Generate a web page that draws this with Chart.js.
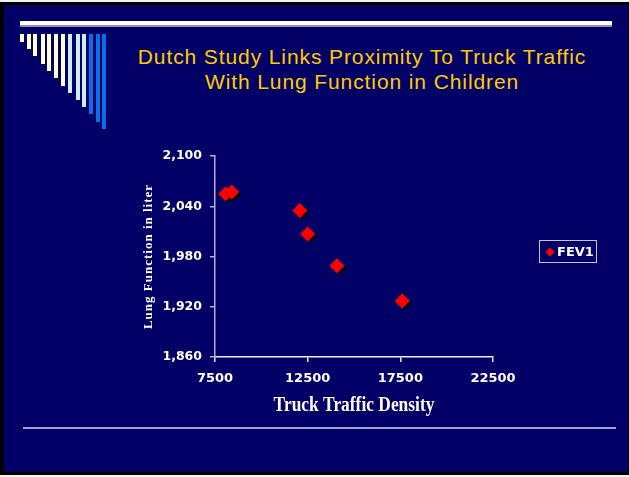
<!DOCTYPE html>
<html>
<head>
<meta charset="utf-8">
<script src="https://cdn.jsdelivr.net/npm/chart.js@4/dist/chart.umd.min.js"></script>
<style>
  html, body { margin: 0; padding: 0; background: #f2f2f2; width: 629px; height: 477px; overflow: hidden; }
  #frame { position: absolute; left: 0; top: 2px; width: 629px; height: 473px; background: #000; }
  #slide { position: absolute; left: 4px; top: 5px; width: 624px; height: 467px; background: #020066; }
  #topline { position: absolute; left: 20px; top: 21px; width: 592px; height: 4px; background: #ffffff; border-bottom: 2px solid #8f8fc8; }
  #botline { position: absolute; left: 23px; top: 427px; width: 593px; height: 2px; background: #a3a3cf; }
  .bar { position: absolute; top: 34px; width: 4px; }
  #title { position: absolute; left: 0; width: 724px; top: 44px; text-align: center; color: #FFCC00;
           font-family: "Liberation Sans", Arial, sans-serif; font-size: 21px; line-height: 25px; letter-spacing: 0.9px; }
  #c { position: absolute; left: 0; top: 0; }
</style>
</head>
<body>
<div id="frame"></div>
<div id="slide"></div>
<div id="topline"></div>
<div id="botline"></div>
<div id="bars"></div>
<div id="title">Dutch Study Links Proximity To Truck Traffic<br>With Lung Function in Children</div>
<canvas id="c" width="629" height="477"></canvas>
<script>
// ---- data ----
const seriesName = "FEV1";
const truckDensity = [8080, 8400, 12080, 12500, 14080, 17600];
const lungFunction = [2055, 2057, 2035, 2007, 1969, 1927];
const xTicks = [7500, 12500, 17500, 22500];
const yTicks = [1860, 1920, 1980, 2040, 2100];
const xTitle = "Truck Traffic Density";
const yTitle = "Lung Function in liter";

// decorative bars (slide design)
const barLeft = [20, 27, 33, 41, 47, 54, 61, 68, 76, 82, 89, 96, 102];
const barBottom = [42, 49, 56, 64, 71, 78, 86, 93, 100, 107, 114, 122, 129];
const barColor = ["#FFFFCC","#FFFFCC","#FFFFCC","#FFFFCC","#FFFFCC","#FFFFCC","#FFFFCC",
                  "#CCECFF","#CCECFF","#CCECFF","#0A6EE6","#0A6EE6","#0A6EE6"];
const barsDiv = document.getElementById('bars');
barLeft.forEach((l, i) => {
  const d = document.createElement('div');
  d.className = 'bar';
  d.style.left = l + 'px';
  d.style.height = (barBottom[i] - 34) + 'px';
  d.style.background = barColor[i];
  barsDiv.appendChild(d);
});

const points = truckDensity.map((x, i) => ({ x: x, y: lungFunction[i] }));

const shadowPlugin = {
  id: 'shadow',
  beforeDatasetsDraw(chart) {
    const ctx = chart.ctx;
    ctx.save();
    ctx.shadowColor = 'rgba(0,0,0,0.95)';
    ctx.shadowOffsetX = 2;
    ctx.shadowOffsetY = 2;
    ctx.shadowBlur = 0;
  },
  afterDatasetsDraw(chart) { chart.ctx.restore(); }
};

const decorPlugin = {
  id: 'decor',
  afterDraw(chart) {
    const ctx = chart.ctx;
    const a = chart.chartArea;
    // x title
    ctx.save();
    ctx.fillStyle = '#ffffff';
    ctx.font = 'bold 20px "Liberation Serif", "Times New Roman", serif';
    ctx.textAlign = 'center';
    ctx.textBaseline = 'alphabetic';
    ctx.translate((a.left + a.right) / 2, a.bottom + 54);
    ctx.scale(0.87, 1);
    ctx.fillText(xTitle, 0, 0);
    ctx.restore();
    // y title
    ctx.save();
    ctx.fillStyle = '#ffffff';
    ctx.font = 'bold 13px "Liberation Serif", "Times New Roman", serif';
    try { ctx.letterSpacing = '1.0px'; } catch (e) {}
    ctx.textAlign = 'center';
    ctx.textBaseline = 'alphabetic';
    ctx.translate(a.left - 63, (a.top + a.bottom) / 2);
    ctx.rotate(-Math.PI / 2);
    ctx.fillText(yTitle, 0, 0);
    ctx.restore();
    // legend
    ctx.save();
    const lx = a.right + 46, ly = 240;
    ctx.strokeStyle = '#c4c4dc';
    ctx.lineWidth = 1;
    ctx.strokeRect(lx + 0.5, ly + 0.5, 57, 22);
    ctx.fillStyle = '#ff0000';
    ctx.beginPath();
    const cx = lx + 11, cy = ly + 12, r = 4.5;
    ctx.moveTo(cx, cy - r); ctx.lineTo(cx + r, cy); ctx.lineTo(cx, cy + r); ctx.lineTo(cx - r, cy); ctx.closePath();
    ctx.fill();
    ctx.fillStyle = '#ffffff';
    ctx.font = 'bold 13px "DejaVu Sans", Verdana, sans-serif';
    ctx.textBaseline = 'middle';
    ctx.textAlign = 'left';
    ctx.fillText(chart.data.datasets[0].label, lx + 18, cy + 0.5);
    ctx.restore();
  }
};

new Chart(document.getElementById('c'), {
  type: 'scatter',
  data: {
    datasets: [{
      label: seriesName,
      data: points,
      backgroundColor: '#ff0000',
      borderColor: '#ff0000',
      borderWidth: 0,
      pointStyle: 'rectRot',
      pointRadius: 7.5,
      pointHoverRadius: 7.5
    }]
  },
  options: {
    responsive: false,
    animation: false,
    events: [],
    layout: { padding: { left: 155, right: 136, top: 156, bottom: 80 } },
    plugins: { legend: { display: false }, tooltip: { enabled: false }, title: { display: false } },
    scales: {
      x: {
        type: 'linear',
        min: xTicks[0], max: xTicks[xTicks.length - 1],
        afterFit(s) { s.height = 40; },
        afterBuildTicks(s) { s.ticks = xTicks.map(v => ({ value: v })); },
        ticks: {
          color: '#ffffff',
          font: { family: '"DejaVu Sans", Verdana, sans-serif', size: 13, weight: 'bold' },
          padding: 9,
          maxRotation: 0,
          callback: v => String(v)
        },
        grid: { drawOnChartArea: false, drawTicks: true, tickLength: 5, color: '#e8e8f4', lineWidth: 1.5 },
        border: { display: true, color: '#f0f0fa', width: 1.5 }
      },
      y: {
        type: 'linear',
        min: yTicks[0], max: yTicks[yTicks.length - 1],
        afterFit(s) { s.width = 60; },
        afterBuildTicks(s) { s.ticks = yTicks.map(v => ({ value: v })); },
        ticks: {
          color: '#ffffff',
          font: { family: '"DejaVu Sans", Verdana, sans-serif', size: 12.5, weight: 'bold' },
          padding: 8,
          callback: v => Number(v).toLocaleString('en-US')
        },
        grid: { drawOnChartArea: false, drawTicks: true, tickLength: 5, color: '#b0b0d6', lineWidth: 1.5 },
        border: { display: true, color: '#b0b0d6', width: 1.5 }
      }
    }
  },
  plugins: [shadowPlugin, decorPlugin]
});
</script>
</body>
</html>
